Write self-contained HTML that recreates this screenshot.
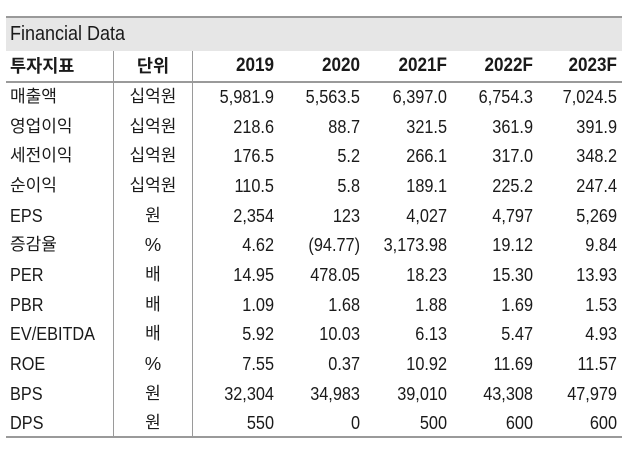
<!DOCTYPE html>
<html><head><meta charset="utf-8">
<style>
html,body{margin:0;padding:0;background:#fff;}
body{width:640px;height:469px;position:relative;overflow:hidden;font-family:"Liberation Sans","Noto Sans CJK KR",sans-serif;color:#1a1a1a;}
.hl{position:absolute;left:6px;width:616px;height:2px;background:#9a9a9a;}
.vl{position:absolute;width:1px;background:#9a9a9a;top:51px;height:386px;}
.band{position:absolute;left:6px;width:616px;top:18px;height:33px;background:#e6e6e6;}
.row{position:absolute;left:0;width:640px;height:29.67px;line-height:29.67px;}
.row span{position:absolute;top:0;white-space:nowrap;}
.lbl{left:10px;font-size:17px;}
.lat{font-size:18.5px;transform:scaleX(0.88);transform-origin:left center;}
.unit{left:114px;width:78px;text-align:center;font-size:17px;}
.v{width:100px;text-align:right;font-size:18.5px;transform:scaleX(0.88);transform-origin:right center;}
.c1{left:174px}.c2{left:260px}.c3{left:347px}.c4{left:433px}.c5{left:517px}
.hdr span{font-weight:bold;}
.hdr .v{font-size:19px;transform:scaleX(0.9);}
</style></head><body>
<div class="hl" style="top:16px"></div>
<div class="band"></div>
<div style="position:absolute;left:10px;top:18px;height:33px;line-height:33px;font-size:20px;transform:scaleX(0.9);transform-origin:left center;">Financial Data</div>
<div class="hl" style="top:81px"></div>
<div class="hl" style="top:436px"></div>
<div class="vl" style="left:113px"></div>
<div class="vl" style="left:192px"></div>

<div class="row hdr" style="top:51px;height:30px;line-height:30px;">
<span class="lbl" style="font-size:17.5px">투자지표</span><span class="unit" style="font-size:17.5px">단위</span>
<span class="v c1">2019</span><span class="v c2">2020</span><span class="v c3">2021F</span><span class="v c4">2022F</span><span class="v c5">2023F</span>
</div>

<div class="row" style="top:82px"><span class="lbl">매출액</span><span class="unit">십억원</span><span class="v c1">5,981.9</span><span class="v c2">5,563.5</span><span class="v c3">6,397.0</span><span class="v c4">6,754.3</span><span class="v c5">7,024.5</span></div>
<div class="row" style="top:111.67px"><span class="lbl">영업이익</span><span class="unit">십억원</span><span class="v c1">218.6</span><span class="v c2">88.7</span><span class="v c3">321.5</span><span class="v c4">361.9</span><span class="v c5">391.9</span></div>
<div class="row" style="top:141.33px"><span class="lbl">세전이익</span><span class="unit">십억원</span><span class="v c1">176.5</span><span class="v c2">5.2</span><span class="v c3">266.1</span><span class="v c4">317.0</span><span class="v c5">348.2</span></div>
<div class="row" style="top:171px"><span class="lbl">순이익</span><span class="unit">십억원</span><span class="v c1">110.5</span><span class="v c2">5.8</span><span class="v c3">189.1</span><span class="v c4">225.2</span><span class="v c5">247.4</span></div>
<div class="row" style="top:200.67px"><span class="lbl lat">EPS</span><span class="unit">원</span><span class="v c1">2,354</span><span class="v c2">123</span><span class="v c3">4,027</span><span class="v c4">4,797</span><span class="v c5">5,269</span></div>
<div class="row" style="top:230.33px"><span class="lbl">증감율</span><span class="unit" style="font-size:18.5px">%</span><span class="v c1">4.62</span><span class="v c2">(94.77)</span><span class="v c3">3,173.98</span><span class="v c4">19.12</span><span class="v c5">9.84</span></div>
<div class="row" style="top:260px"><span class="lbl lat">PER</span><span class="unit">배</span><span class="v c1">14.95</span><span class="v c2">478.05</span><span class="v c3">18.23</span><span class="v c4">15.30</span><span class="v c5">13.93</span></div>
<div class="row" style="top:289.67px"><span class="lbl lat">PBR</span><span class="unit">배</span><span class="v c1">1.09</span><span class="v c2">1.68</span><span class="v c3">1.88</span><span class="v c4">1.69</span><span class="v c5">1.53</span></div>
<div class="row" style="top:319.33px"><span class="lbl lat">EV/EBITDA</span><span class="unit">배</span><span class="v c1">5.92</span><span class="v c2">10.03</span><span class="v c3">6.13</span><span class="v c4">5.47</span><span class="v c5">4.93</span></div>
<div class="row" style="top:349px"><span class="lbl lat">ROE</span><span class="unit" style="font-size:18.5px">%</span><span class="v c1">7.55</span><span class="v c2">0.37</span><span class="v c3">10.92</span><span class="v c4">11.69</span><span class="v c5">11.57</span></div>
<div class="row" style="top:378.67px"><span class="lbl lat">BPS</span><span class="unit">원</span><span class="v c1">32,304</span><span class="v c2">34,983</span><span class="v c3">39,010</span><span class="v c4">43,308</span><span class="v c5">47,979</span></div>
<div class="row" style="top:408.33px"><span class="lbl lat">DPS</span><span class="unit">원</span><span class="v c1">550</span><span class="v c2">0</span><span class="v c3">500</span><span class="v c4">600</span><span class="v c5">600</span></div>
</body></html>
